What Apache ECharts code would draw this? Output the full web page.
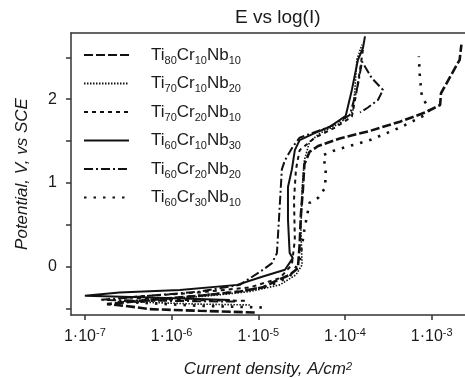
<!DOCTYPE html>
<html>
<head>
<meta charset="utf-8">
<script src="https://cdn.jsdelivr.net/npm/echarts@6/dist/echarts.min.js"></script>
<style>
  html, body { margin: 0; padding: 0; background: #fff; }
  #chart { width: 465px; height: 378px; }
</style>
</head>
<body>
<div id="chart"></div>
<script>
// current density (A/cm2) and potential (V vs SCE)
const alloys = ['Ti80Cr10Nb10', 'Ti70Cr10Nb20', 'Ti70Cr20Nb10', 'Ti60Cr10Nb30', 'Ti60Cr20Nb20', 'Ti60Cr30Nb10'];

const i_80_10_10 = [9.1e-6, 2.1e-6, 5.6e-7, 2.9e-7, 1.8e-7, 5.6e-7, 2.1e-6, 6.1e-6, 1.13e-5, 1.55e-5, 2.3e-5, 2.86e-5, 3.0e-5, 3.1e-5, 3.27e-5, 3.4e-5, 3.9e-5, 4.9e-5, 8.7e-5, 1.94e-4, 4.3e-4, 8.4e-4, 1.25e-3, 1.28e-3, 1.6e-3, 2.1e-3, 2.2e-3];
const E_80_10_10 = [-0.55, -0.53, -0.51, -0.47, -0.45, -0.40, -0.35, -0.30, -0.25, -0.18, -0.10, -0.02, 0.26, 0.62, 0.92, 1.22, 1.37, 1.44, 1.53, 1.62, 1.73, 1.84, 1.93, 2.07, 2.25, 2.47, 2.65];

const i_70_10_20 = [8.0e-6, 2.1e-6, 5.6e-7, 2.4e-7, 7.3e-7, 2.8e-6, 8.0e-6, 1.77e-5, 2.72e-5, 3.2e-5, 3.1e-5, 3.2e-5, 3.4e-5, 3.9e-5, 5.1e-5, 8.7e-5, 1.23e-4, 1.3e-4, 1.37e-4, 1.57e-4];
const E_70_10_20 = [-0.46, -0.45, -0.43, -0.42, -0.39, -0.35, -0.30, -0.22, -0.10, 0.02, 0.44, 0.92, 1.27, 1.49, 1.59, 1.71, 1.85, 2.11, 2.47, 2.65];

const i_70_20_10 = [7.0e-6, 1.25e-6, 2.9e-7, 2.1e-6, 8.0e-6, 1.77e-5, 2.44e-5, 2.64e-5, 2.58e-5, 2.72e-5, 3.0e-5, 4.5e-5, 7.7e-5, 1.2e-4, 1.34e-4, 1.49e-4, 1.61e-4];
const E_70_20_10 = [-0.41, -0.40, -0.37, -0.31, -0.25, -0.14, 0.02, 0.32, 0.80, 1.16, 1.39, 1.54, 1.66, 1.79, 2.05, 2.35, 2.59];

const i_60_10_30 = [4.7e-6, 5.6e-7, 1.0e-7, 2.5e-7, 1.25e-6, 5.7e-6, 1.13e-5, 2.03e-5, 2.5e-5, 2.3e-5, 2.2e-5, 2.2e-5, 2.44e-5, 2.64e-5, 3.0e-5, 4.6e-5, 6.7e-5, 1.02e-4, 1.2e-4, 1.41e-4, 1.61e-4, 1.7e-4];
const E_60_10_30 = [-0.40, -0.37, -0.35, -0.31, -0.28, -0.22, -0.12, -0.04, 0.10, 0.16, 0.56, 0.95, 1.16, 1.39, 1.51, 1.60, 1.67, 1.80, 2.11, 2.47, 2.61, 2.75];

const i_60_20_20 = [5.4e-6, 7.3e-7, 1.5e-7, 5.6e-7, 2.1e-6, 6.1e-6, 1.13e-5, 1.44e-5, 1.64e-5, 1.73e-5, 1.87e-5, 2.03e-5, 2.5e-5, 3.0e-5, 6.7e-5, 1.14e-4, 1.41e-4, 1.57e-4, 2.04e-4, 2.74e-4, 2.4e-4, 1.84e-4, 1.49e-4];
const E_60_20_20 = [-0.42, -0.41, -0.40, -0.35, -0.30, -0.22, -0.04, 0.04, 0.16, 0.56, 1.16, 1.27, 1.43, 1.54, 1.67, 1.81, 2.17, 2.45, 2.25, 2.11, 1.99, 1.90, 1.84];

const i_60_30_10 = [1.1e-5, 2.1e-6, 3.8e-7, 1.25e-6, 6.1e-6, 1.36e-5, 2.3e-5, 3.0e-5, 3.4e-5, 3.9e-5, 4.9e-5, 5.9e-5, 6.0e-5, 5.6e-5, 7.7e-5, 1.94e-4, 4.3e-4, 8.4e-4, 9.5e-4, 7.7e-4, 7.3e-4, 7.1e-4];
const E_60_30_10 = [-0.49, -0.47, -0.43, -0.37, -0.30, -0.23, -0.12, 0.06, 0.44, 0.76, 0.82, 0.94, 1.16, 1.33, 1.39, 1.51, 1.66, 1.81, 1.87, 2.03, 2.27, 2.51];

// decades shown on the x axis (exponents) and potential ticks
const xDecades = [-7, -6, -5, -4, -3];
const yTicks = [-0.5, 0, 0.5, 1, 1.5, 2, 2.5];
const yLabels = [0, 1, 2];

const curves = [
  [i_80_10_10, E_80_10_10],
  [i_70_10_20, E_70_10_20],
  [i_70_20_10, E_70_20_10],
  [i_60_10_30, E_60_10_30],
  [i_60_20_20, E_60_20_20],
  [i_60_30_10, E_60_30_10]
];

// line look per alloy: [width, dash pattern]
const looks = [
  [2.6, [9, 3]],
  [1.6, [1.5, 1.5]],
  [2, [4, 4]],
  [2, 'solid'],
  [2, [9, 3, 2, 3]],
  [2.6, [2.5, 7]]
];

const FONT = 'Liberation Sans';
const chart = echarts.init(document.getElementById('chart'), null, { renderer: 'canvas' });

const series = curves.map((c, k) => ({
  name: alloys[k],
  type: 'line',
  symbol: 'none',
  showSymbol: false,
  color: '#111',
  lineStyle: { color: '#111', width: looks[k][0], type: looks[k][1] },
  data: c[0].map((v, j) => [Math.log10(v), c[1][j]])
}));

chart.setOption({
  animation: false,
  backgroundColor: '#fff',
  title: {
    text: 'E vs log(I)',
    left: 230,
    top: 3,
    textStyle: { fontFamily: FONT, fontSize: 19, fontWeight: 'normal', color: '#1a1a1a' }
  },
  legend: {
    orient: 'vertical',
    left: 83,
    top: 44,
    padding: 0,
    itemWidth: 45,
    itemHeight: 14,
    itemGap: 6.5,
    itemStyle: { opacity: 0 },
    data: alloys,
    formatter: name => name.replace(/(\d+)/g, '{s|$1}'),
    textStyle: {
      fontFamily: FONT,
      fontSize: 17,
      color: '#1a1a1a',
      lineHeight: 22,
      padding: [0, 0, 0, 17],
      rich: {
        s: { fontFamily: FONT, fontSize: 11, lineHeight: 12, verticalAlign: 'bottom', color: '#1a1a1a' }
      }
    }
  },
  grid: { left: 71, right: 0, top: 33, bottom: 63, outerBoundsMode: 'none' },
  xAxis: [
    {
      type: 'value',
      min: -7.16,
      max: -2.616,
      name: 'Current density, A/cm{p|2}',
      nameLocation: 'middle',
      nameGap: 46,
      nameTextStyle: {
        fontFamily: FONT, fontSize: 17, fontStyle: 'italic', color: '#1a1a1a',
        rich: { p: { fontFamily: FONT, fontSize: 11, fontStyle: 'italic', verticalAlign: 'top', lineHeight: 12, color: '#1a1a1a' } }
      },
      splitLine: { show: false },
      axisLine: { onZero: false, lineStyle: { color: '#333', width: 1.5 } },
      axisTick: { length: 5, customValues: xDecades, lineStyle: { color: '#333', width: 1.5 } },
      axisLabel: {
        customValues: xDecades,
        margin: 12,
        fontFamily: FONT,
        fontSize: 16,
        color: '#1a1a1a',
        lineHeight: 20,
        formatter: v => '1·10{p|' + Math.round(v) + '}',
        rich: { p: { fontFamily: FONT, fontSize: 11, lineHeight: 12, verticalAlign: 'top', color: '#1a1a1a' } }
      }
    },
    {
      type: 'value',
      position: 'top',
      min: -7.16,
      max: -2.616,
      axisLine: { show: true, onZero: false, lineStyle: { color: '#333', width: 1.5 } },
      axisTick: { show: false },
      axisLabel: { show: false },
      splitLine: { show: false }
    }
  ],
  yAxis: {
    type: 'value',
    min: -0.58,
    max: 2.79,
    name: 'Potential, V, vs SCE',
    nameLocation: 'middle',
    nameGap: 40,
    nameTextStyle: { fontFamily: FONT, fontSize: 17, fontStyle: 'italic', color: '#1a1a1a' },
    splitLine: { show: false },
    axisLine: { show: true, onZero: false, lineStyle: { color: '#333', width: 1.5 } },
    axisTick: { show: true, length: 5, customValues: yTicks, lineStyle: { color: '#333', width: 1.5 } },
    axisLabel: {
      customValues: yLabels,
      margin: 14,
      fontFamily: FONT,
      fontSize: 16,
      color: '#1a1a1a'
    }
  },
  series: series
});
</script>
</body>
</html>
